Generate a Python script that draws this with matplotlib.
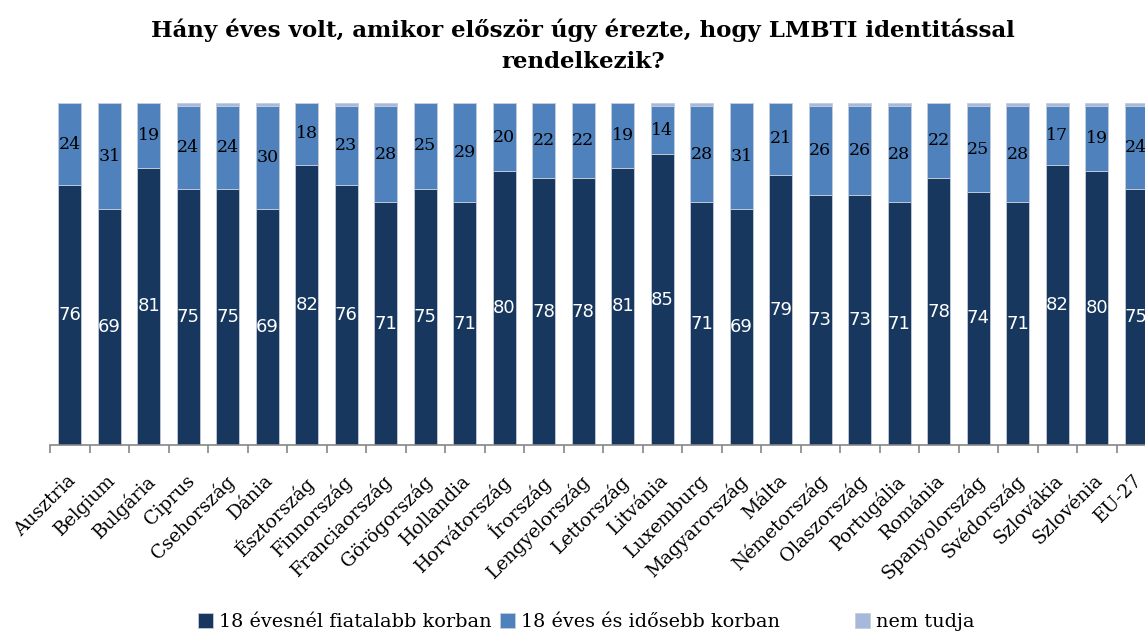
import numpy as np
import matplotlib
matplotlib.use("Agg")
import matplotlib.pyplot as plt
import matplotlib.transforms as mtransforms

# data
countries = ["Ausztria", "Belgium", "Bulgária", "Ciprus", "Csehország", "Dánia",
             "Észtország", "Finnország", "Franciaország", "Görögország", "Hollandia",
             "Horvátország", "Írország", "Lengyelország", "Lettország", "Litvánia",
             "Luxemburg", "Magyarország", "Málta", "Németország", "Olaszország",
             "Portugália", "Románia", "Spanyolország", "Svédország", "Szlovákia",
             "Szlovénia", "EU-27"]
younger = [76, 69, 81, 75, 75, 69, 82, 76, 71, 75, 71, 80, 78, 78, 81, 85, 71, 69,
           79, 73, 73, 71, 78, 74, 71, 82, 80, 75]
older = [24, 31, 19, 24, 24, 30, 18, 23, 28, 25, 29, 20, 22, 22, 19, 14, 28, 31,
         21, 26, 26, 28, 22, 25, 28, 17, 19, 24]
dont_know = [0, 0, 0, 1, 1, 1, 0, 1, 1, 0, 0, 0, 0, 0, 0, 1, 1, 0,
             0, 1, 1, 1, 0, 1, 1, 1, 1, 1]
series_names = ["18 évesnél fiatalabb korban", "18 éves és idősebb korban", "nem tudja"]

c_dark = "#17375e"
c_mid = "#4f81bd"
c_light = "#a7b8db"

fig = plt.figure(figsize=(11.45, 6.32), dpi=100)
ax = fig.add_axes([50 / 1145, 187 / 632, 1106 / 1145, 342 / 632])

x = np.arange(len(countries))
young = np.array(younger)
old = np.array(older)
dk = np.array(dont_know)
w = 0.58

b1 = ax.bar(x, young, w, color=c_dark, edgecolor="#c5cddb", linewidth=0.6, label=series_names[0])
b2 = ax.bar(x, old, w, bottom=young, color=c_mid, edgecolor="#c5cddb", linewidth=0.6, label=series_names[1])
b3 = ax.bar(x, dk, w, bottom=young + old, color=c_light, edgecolor="#c5cddb", linewidth=0.6, label=series_names[2])

# value labels
for i in range(len(countries)):
    ax.text(x[i], young[i] / 2, str(young[i]), ha="center", va="center",
            color="white", fontsize=13, family="DejaVu Sans")
    ax.text(x[i], young[i] + old[i] / 2, str(old[i]), ha="center", va="center",
            color="black", fontsize=12.5, family="DejaVu Serif")

ax.set_xlim(-0.5, len(countries) - 0.5)
ax.set_ylim(0, 100)
for s in ["top", "right", "left"]:
    ax.spines[s].set_visible(False)
ax.spines["bottom"].set_color("#868686")
ax.spines["bottom"].set_linewidth(1.2)
ax.set_yticks([])

ax.set_xticks(x)
ax.set_xticklabels(countries, rotation=45, ha="right", rotation_mode="anchor",
                   fontsize=13.5, family="DejaVu Serif")
ax.tick_params(axis="x", which="major", length=0, pad=19)
ax.set_xticks(np.arange(-0.5, len(countries), 1), minor=True)
ax.tick_params(axis="x", which="minor", length=6, color="#868686", width=1.2)
# nudge labels a bit left, like the original
shift = mtransforms.ScaledTranslation(-3 / 100, 0, fig.dpi_scale_trans)
for lab in ax.get_xticklabels():
    lab.set_transform(lab.get_transform() + shift)

fig.text(0.509, 0.928, "Hány éves volt, amikor először úgy érezte, hogy LMBTI identitással\nrendelkezik?",
         ha="center", va="center", fontsize=16.5, fontweight="bold", family="DejaVu Serif",
         linespacing=1.5)

# legend entries placed one by one (uneven spacing in the original)
leg_x = [198 / 1145, 500 / 1145, 855 / 1145]
for handle, lx in zip([b1, b2, b3], leg_x):
    lg = fig.legend(handles=[handle], loc="center left", bbox_to_anchor=(lx, 0.016),
                    frameon=False, prop={"family": "DejaVu Serif", "size": 13.9},
                    handlelength=0.8, handleheight=0.8, handletextpad=0.3,
                    borderpad=0, borderaxespad=0)

fig.savefig("out.png", dpi=100)
